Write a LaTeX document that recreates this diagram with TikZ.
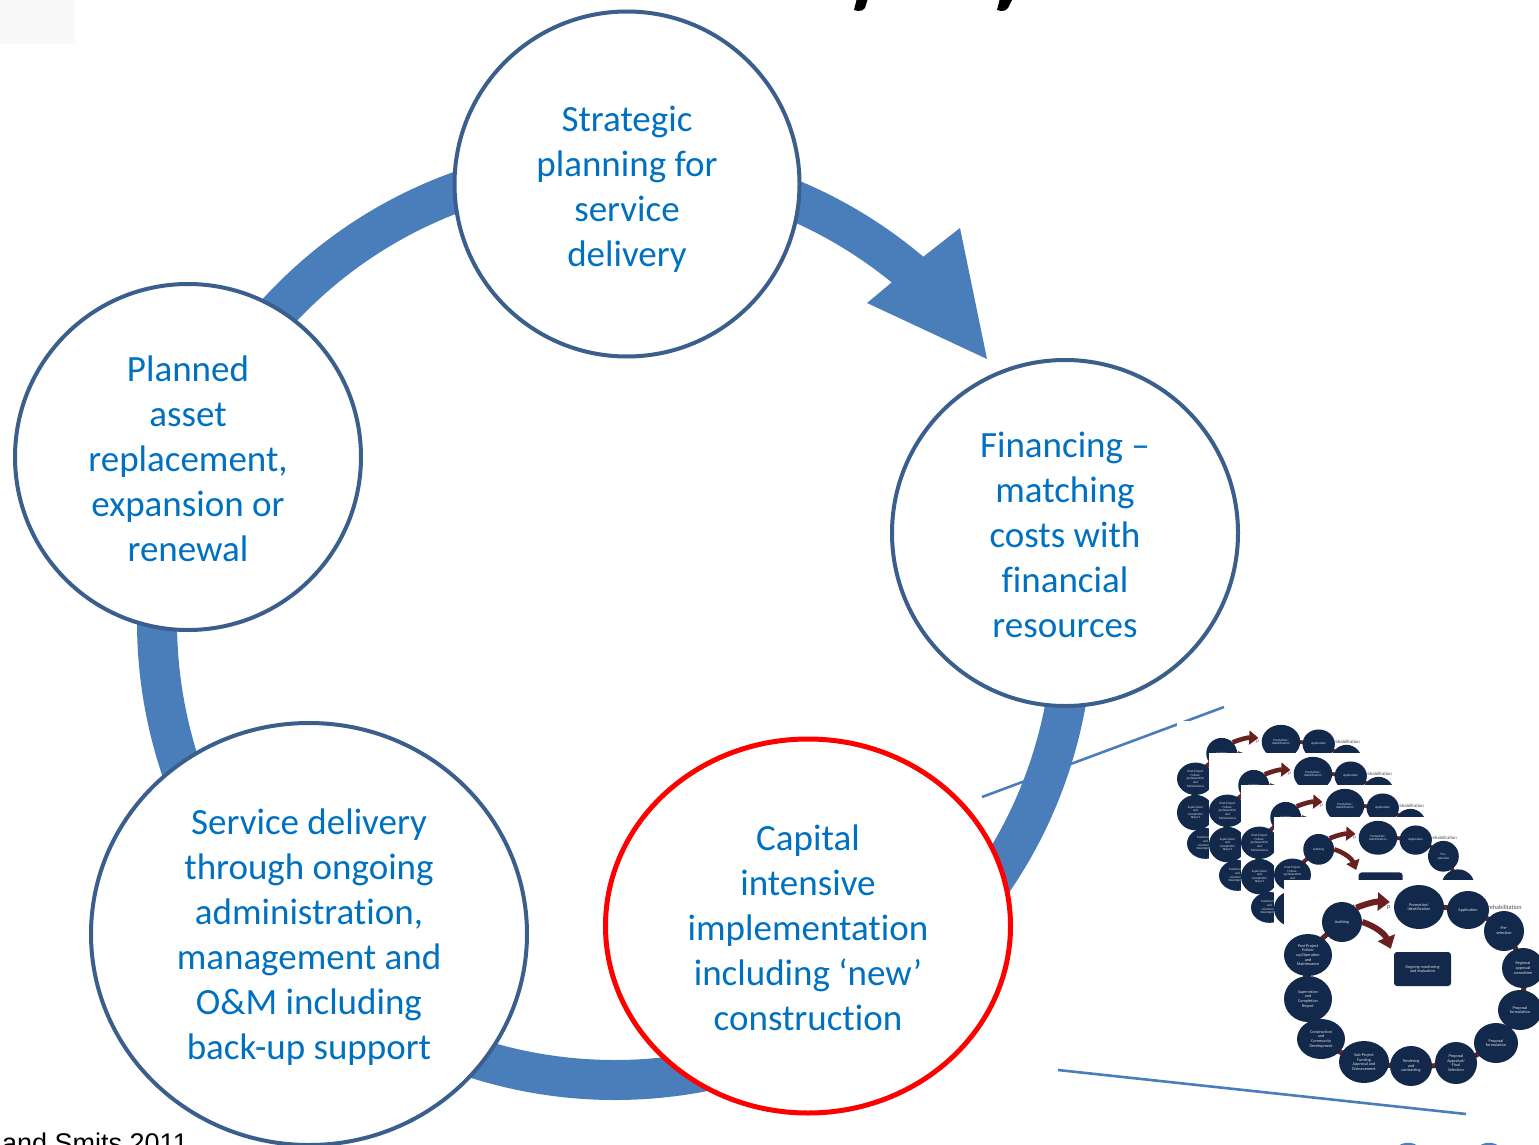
\documentclass[tikz,border=0pt]{standalone}
\usepackage{fontspec}
\setmainfont{Carlito}[Ligatures={NoCommon}]
\newfontfamily\arialf{Liberation Sans}
\usetikzlibrary{shapes.geometric,arrows.meta}
\definecolor{bandblue}{HTML}{4A7EBB}
\definecolor{rimblue}{HTML}{3B5F8D}
\definecolor{txtblue}{HTML}{0070C0}
\definecolor{navy}{HTML}{13294B}
\definecolor{maroon}{HTML}{6B1F1F}
\definecolor{faint}{HTML}{F9F9F9}
\tikzset{
  stage/.style={circle, draw=rimblue, line width=4pt, fill=white, inner sep=0pt},
  stageE/.style={ellipse, draw=rimblue, line width=4pt, fill=white, inner sep=0pt},
  stagetext/.style={text=txtblue, align=center, inner sep=0pt, font=\fontsize{37}{45}\selectfont},
  thnode/.style={ellipse, fill=navy, text=white!85!navy, align=center, inner sep=0pt,
    font=\fontsize{4.2}{4.7}\selectfont},
  thbox/.style={rectangle, rounded corners=3pt, fill=navy, text=white!85!navy, align=center,
    inner sep=0pt, font=\fontsize{4.2}{4.7}\selectfont},
  thnote/.style={inner sep=0pt, text=black!70, font=\fontsize{6.2}{7}\selectfont},
  thinline/.style={bandblue, line width=2.6pt},
}
\newcommand\thumbcopy[4]{%
\begin{scope}[shift={(#2,#3)}, scale=#4, transform shape]
  \fill[white] (0,0) rectangle (265,205);
  \node[thnote, anchor=west] (#1n1) at (53,27) {project};
  \node[thnote, anchor=west] (#1n2) at (103,27) {p};
  \node[thnote, anchor=west] (#1n3) at (200,27) {r rehabilitation};
  \draw[maroon, line width=#4*5pt] plot[smooth] coordinates {(135,27) (184,30) (220,51) (239,88) (236,130) (212,163) (172,183) (127,186) (80,182) (37,159) (24,119) (24,75) (58,42)};
  \node[thnode, minimum width=40, minimum height=40] (#1aud) at (58,42) {Auditing};
  \node[thnode, minimum width=50, minimum height=44] (#1pro) at (135,27) {Promotion/\\Identification};
  \node[thnode, minimum width=42, minimum height=38] (#1app) at (184,30) {Application};
  \node[thnode, minimum width=40, minimum height=40] (#1pre) at (220,51) {Pre-\\selection};
  \node[thnode, minimum width=42, minimum height=40] (#1reg) at (239,88) {Regional\\approval\\committee};
  \node[thnode, minimum width=44, minimum height=40] (#1pf1) at (236,130) {Proposal\\formulation};
  \node[thnode, minimum width=44, minimum height=40] (#1pf2) at (212,163) {Proposal\\formulation};
  \node[thnode, minimum width=42, minimum height=42] (#1fin) at (172,183) {Proposal\\Appraisal/\\Final\\Selection};
  \node[thnode, minimum width=42, minimum height=40] (#1ten) at (127,186) {Tendering\\and\\contracting};
  \node[thnode, minimum width=50, minimum height=42] (#1sub) at (80,182) {Sub-Project\\Funding\\Approval and\\Disbursement};
  \node[thnode, minimum width=48, minimum height=40] (#1con) at (37,159) {Construction\\and\\Community\\Development};
  \node[thnode, minimum width=48, minimum height=46] (#1sup) at (24,119) {Supervision\\and\\Completion\\Report};
  \node[thnode, minimum width=48, minimum height=42] (#1pos) at (24,75) {Post-Project\\Follow-\\up/Operation\\and\\Maintenance};
  \node[thbox, minimum width=57, minimum height=34] (#1box) at (138.5,89) {Ongoing monitoring\\and evaluation};
  \draw[maroon, line width=#4*6pt, -{Triangle[width=18pt,length=12pt,scale=#4]}]
    (#1aud.north east) to[bend left=12] ([shift={(-4,-5)}]#1pro.west);
  \draw[maroon, line width=#4*6pt, -{Triangle[width=18pt,length=12pt,scale=#4]}]
    (#1aud.east) to[bend left=25] ([shift={(-3,-3)}]#1box.north west);
\end{scope}}
\begin{document}
\begin{tikzpicture}[x=1pt, y=-1pt]
\useasboundingbox (0,0) rectangle (1539,1145);
\clip (0,0) rectangle (1539,1145);
\fill[white] (0,0) rectangle (1539,1145);
\fill[faint] (0,0) rectangle (75,44);
% fragments of the cut-off title
\fill[black] (857,-2) -- (868,-2) -- (865,8) to[out=-120,in=0] (858,11) -- (854,10) -- cycle;
\fill[black] (1000,-2) -- (1013,-2) -- (1008,8) to[out=-120,in=0] (1001,11) -- (997,10) -- cycle;
% callout lines
\draw[thinline] (982,797) -- (1224,707);
\draw[thinline] (1058,1070) -- (1466,1114);
% cycle band and arrow head
\draw[bandblue, line width=40pt] ([shift={(-48:458)}]615,622) arc[start angle=-48, end angle=-370, radius=458];
\fill[bandblue] (928,253) -- (960,228) -- (987,359) -- (867,303) -- (897,278) -- cycle;
% stages
\node[stage, minimum size=345] (strat) at (627,184) {};
\node[stage, minimum size=346] (fin) at (1065,533) {};
\node[stageE, draw=red, line width=5pt, minimum width=405, minimum height=374] (cap) at (808,926) {};
\node[stageE, minimum width=436, minimum height=422] (serv) at (309,934) {};
\node[stage, minimum size=346] (plan) at (188,457) {};
\node[stagetext] (strat-t) at ([yshift=-5pt]strat.center) {Strategic\\planning for\\service\\delivery};
\node[stagetext] (fin-t) at ([yshift=-1.5pt]fin.center) {Financing –\\matching\\costs with\\financial\\resources};
\node[stagetext] (cap-t) at ([yshift=-1.5pt]cap.center) {Capital\\intensive\\implementation\\including ‘new’\\construction};
\node[stagetext] (serv-t) at ([yshift=-3pt]serv.center) {Service delivery\\through ongoing\\administration,\\management and\\O\&M including\\back-up support};
\node[stagetext] (plan-t) at ([yshift=-2pt]plan.center) {Planned\\asset\\replacement,\\expansion or\\renewal};
% thumbnails of the detailed project cycle
\thumbcopy{a}{1177}{721}{0.77}
\thumbcopy{b}{1209}{753}{0.77}
\thumbcopy{c}{1241}{785}{0.77}
\thumbcopy{d}{1274}{817}{0.77}
\thumbcopy{e}{1284}{880}{1}
% source note
\node[inner sep=0pt, anchor=base east, font=\arialf\fontsize{27}{30}\selectfont] (src) at (188,1152) {and Smits 2011};
% small icons at the bottom edge
\draw[bandblue, line width=2.5pt] (1408,1160) circle[radius=16];
\draw[bandblue, line width=2.5pt] (1489,1160) circle[radius=16];
\end{tikzpicture}
\end{document}
